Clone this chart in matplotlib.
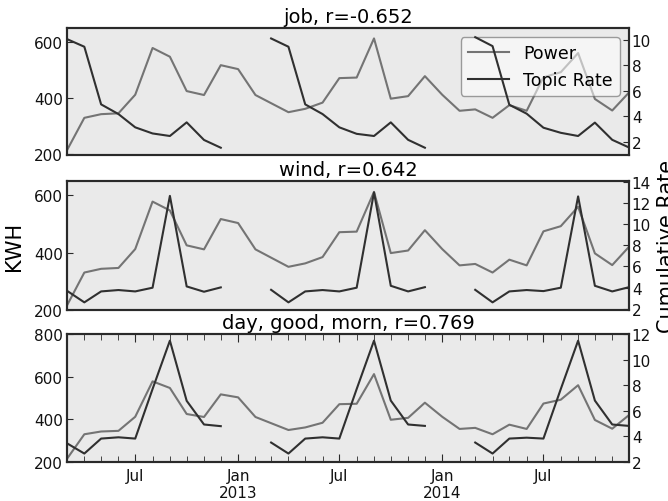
import matplotlib
matplotlib.use("Agg")
import matplotlib.pyplot as plt
import matplotlib.dates as mdates
import numpy as np
import pandas as pd

# ---- data ----
months = pd.date_range("2012-03-01", "2014-12-01", freq="MS")

power = [215, 330, 343, 346, 412, 578, 547, 425, 411, 517,
         503, 411, 382, 350, 362, 384, 471, 473, 612, 398, 407, 478,
         412, 355, 360, 330, 375, 355, 474, 492, 560, 397, 356, 420]

nan = np.nan
job_rate = [10.05, 9.45, 4.93, 4.17, 3.13, 2.65, 2.45, 3.52, 2.14, 1.53,
            nan, nan, 10.1, 9.45, 4.93, 4.17, 3.13, 2.62, 2.45, 3.52, 2.15, 1.53,
            nan, nan, 10.2, 9.5, 4.9, 4.2, 3.1, 2.7, 2.45, 3.5, 2.15, 1.55]

wind_rate = [3.71, 2.62, 3.65, 3.78, 3.65, 4.0, 12.65, 4.12, 3.62, 4.03,
             nan, nan, 3.8, 2.62, 3.65, 3.78, 3.65, 4.0, 12.98, 4.18, 3.65, 4.05,
             nan, nan, 3.8, 2.62, 3.65, 3.78, 3.68, 4.0, 12.6, 4.18, 3.65, 4.05]

day_rate = [3.46, 2.66, 3.83, 3.93, 3.83, 7.7, 11.48, 6.78, 4.93, 4.8,
            nan, nan, 3.52, 2.66, 3.83, 3.93, 3.83, 7.7, 11.48, 6.8, 4.93, 4.82,
            nan, nan, 3.52, 2.66, 3.83, 3.9, 3.83, 7.7, 11.48, 6.8, 4.93, 4.82]

titles = ["job, r=-0.652", "wind, r=0.642", "day, good, morn, r=0.769"]
rates = [job_rate, wind_rate, day_rate]
left_ylims = [(198, 649), (199, 650), (200, 800)]
right_ylims = [(0.96, 10.92), (1.9, 14.05), (2, 12)]
left_ticks = [[200, 400, 600], [200, 400, 600], [200, 400, 600, 800]]
right_ticks = [[2, 4, 6, 8, 10], [2, 4, 6, 8, 10, 12, 14], [2, 4, 6, 8, 10, 12]]

# ---- style ----
POWER_C = "#747474"
RATE_C = "#303030"
BG = "#eaeaea"
SPINE = "#2a2a2a"
TS = 11

fig = plt.figure(figsize=(6.68, 5.02), dpi=100)
W, H = 668, 502
boxes = [(29, 156), (182, 311), (335, 463)]
L, R = 67, 629

for i, (top, bot) in enumerate(boxes):
    ax = fig.add_axes([L / W, 1 - bot / H, (R - L) / W, (bot - top) / H])
    ax.set_facecolor(BG)
    lp, = ax.plot(months, power, color=POWER_C, lw=1.5, label="Power")
    ax.set_ylim(*left_ylims[i])
    ax.set_yticks(left_ticks[i])
    ax.set_xlim(months[0], months[-1])
    ax2 = ax.twinx()
    lr, = ax2.plot(months, rates[i], color=RATE_C, lw=1.5, label="Topic Rate")
    ax2.set_ylim(*right_ylims[i])
    ax2.set_yticks(right_ticks[i])
    ax2.set_xlim(months[0], months[-1])
    ax.set_title(titles[i], fontsize=14, pad=4)
    for a in (ax, ax2):
        for s in a.spines.values():
            s.set_color(SPINE)
            s.set_linewidth(1.5)
    ax.tick_params(axis="y", direction="in", labelsize=TS, length=4, colors=SPINE,
                   labelcolor="#111111", right=False, pad=3)
    ax2.tick_params(axis="y", direction="in", labelsize=TS, length=4, colors=SPINE,
                    labelcolor="#111111", left=False, pad=2)
    ax.xaxis.set_major_locator(mdates.MonthLocator(bymonth=[1, 7]))
    ax.xaxis.set_minor_locator(mdates.MonthLocator())

    def fmt(x, pos=None):
        d = mdates.num2date(x)
        if d.month == 1:
            return "Jan\n%d" % d.year
        return d.strftime("%b")
    ax.xaxis.set_major_formatter(plt.FuncFormatter(fmt))
    if i < 2:
        ax.tick_params(axis="x", which="both", bottom=False, top=False, labelbottom=False)
        ax2.tick_params(axis="x", which="both", bottom=False, top=False, labelbottom=False)
    else:
        ax.tick_params(axis="x", which="major", direction="in", length=6, top=True,
                       labelsize=TS, colors=SPINE, labelcolor="#111111", pad=4)
        ax.tick_params(axis="x", which="minor", direction="in", length=4, top=True,
                       colors=SPINE)
        for lab in ax.get_xticklabels():
            lab.set_ha("center")
    if i == 0:
        leg = ax.legend([lp, lr], ["Power", "Topic Rate"], loc="upper right",
                        fontsize=12.5, fancybox=True, framealpha=0.55,
                        edgecolor="#555555", handlelength=2.4,
                        bbox_to_anchor=(0.999, 0.995))
        leg.get_frame().set_linewidth(1.0)
    if i == 1:
        ax.set_ylabel("KWH", fontsize=15, labelpad=7)
        ax2.set_ylabel("Cumulative Rate", fontsize=15, labelpad=4)

fig.savefig("out.png", dpi=100)
